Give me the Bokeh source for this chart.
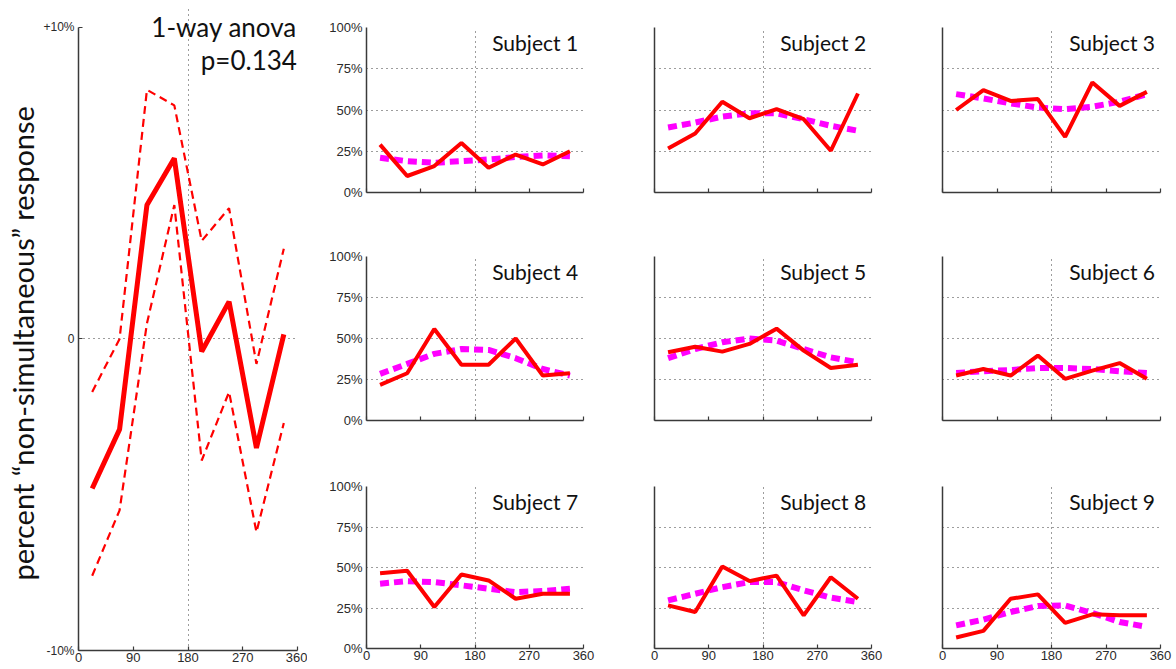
from bokeh.plotting import figure
from bokeh.layouts import row, column
from bokeh.models import FixedTicker, Label, Title
from bokeh.embed import file_html
from bokeh.resources import INLINE

# ---------------- data ----------------
angles = [22.5, 67.5, 112.5, 157.5, 202.5, 247.5, 292.5, 337.5]
x_ticks = [0, 90, 180, 270, 360]
x_tick_labels = ["0", "90", "180", "270", "360"]

# group panel: change in percent "non-simultaneous" response
group_mean = [-4.8, -2.9, 4.3, 5.8, -0.4, 1.2, -3.5, 0.15]
group_upper = [-1.7, 0.0, 8.0, 7.5, 3.15, 4.2, -0.8, 2.9]
group_lower = [-7.6, -5.5, 0.5, 4.3, -3.9, -1.7, -6.2, -2.7]
group_y_ticks = [-10, 0, 10]
group_y_labels = ["-10%", "0", "+10%"]

# subject panels (percent non-simultaneous response, observed and fitted)
subj_y_ticks = [0, 25, 50, 75, 100]
subj_y_labels = ["0%", "25%", "50%", "75%", "100%"]
subject_names = ["Subject 1", "Subject 2", "Subject 3",
                 "Subject 4", "Subject 5", "Subject 6",
                 "Subject 7", "Subject 8", "Subject 9"]

s1_obs = [29, 10, 16, 30, 15, 23, 17, 25]
s1_fit = [21, 19, 18, 19, 20, 21.5, 22.5, 22]
s2_obs = [26.7, 35.8, 55, 45, 50.5, 44.4, 25.3, 60]
s2_fit = [39.4, 42.4, 46, 48, 48, 44.4, 40.4, 37.4]
s3_obs = [50, 62, 55.5, 56.6, 33.7, 66.7, 52.5, 61]
s3_fit = [59.6, 57, 54, 51.5, 50.5, 52, 55, 59.6]
s4_obs = [21.7, 28.8, 55.8, 34, 34, 50, 27.4, 28.8]
s4_fit = [28.4, 34.5, 40.6, 43.6, 43, 38, 31.4, 27.4]
s5_obs = [41.6, 45, 42, 46.7, 56, 42.6, 32, 34]
s5_fit = [38, 43.6, 47.7, 50, 48.7, 43.6, 38.5, 35.5]
s6_obs = [27.4, 31.4, 27.4, 39.6, 25.4, 30.4, 35, 25.4]
s6_fit = [29, 30, 30.8, 32, 32, 31.4, 30, 29]
s7_obs = [46.5, 48, 25.6, 45.7, 42, 30.7, 33.8, 33.8]
s7_fit = [40, 41.6, 41, 39, 36.9, 34.8, 35.5, 36.9]
s8_obs = [26.6, 22.5, 50.6, 41.6, 45, 20.5, 44, 30.7]
s8_fit = [29.7, 33.8, 37.9, 41, 41, 35.9, 31.4, 28.7]
s9_obs = [6.8, 10.9, 30.7, 33.4, 15.8, 21.1, 20.5, 20.5]
s9_fit = [14.3, 17.8, 22.5, 26.2, 26.6, 21.9, 16.4, 13.3]

observed = [s1_obs, s2_obs, s3_obs, s4_obs, s5_obs, s6_obs, s7_obs, s8_obs, s9_obs]
fitted = [s1_fit, s2_fit, s3_fit, s4_fit, s5_fit, s6_fit, s7_fit, s8_fit, s9_fit]

# ---------------- style ----------------
AXIS_COLOR = "#3a3a3a"
TICK_FONT = "Liberation Sans"
TITLE_FONT = "Lato"
RED = "#ff0000"
MAGENTA = "#ff00ff"
GRID_DASH = "1 4"


def style_axes(p, xlabels_on, ylabels, yticks, ytick_in):
    p.xaxis.ticker = FixedTicker(ticks=x_ticks)
    if xlabels_on:
        p.xaxis.major_label_overrides = {t: l for t, l in zip(x_ticks, x_tick_labels)}
    else:
        p.xaxis.major_label_overrides = {t: "" for t in x_ticks}
    p.yaxis.ticker = FixedTicker(ticks=yticks)
    if ylabels is not None:
        p.yaxis.major_label_overrides = {t: l for t, l in zip(yticks, ylabels)}
    else:
        p.yaxis.major_label_overrides = {t: "" for t in yticks}
    for ax in (p.xaxis[0], p.yaxis[0]):
        ax.axis_line_color = AXIS_COLOR
        ax.axis_line_width = 1.5
        ax.major_tick_line_color = AXIS_COLOR
        ax.major_tick_line_width = 1.2
        ax.minor_tick_line_color = None
        ax.major_tick_out = 0
        ax.major_label_text_font = TICK_FONT
        ax.major_label_text_font_size = "13px"
        ax.major_label_text_color = "#2a2a2a"
    p.xaxis.major_tick_in = 4
    p.yaxis.major_tick_in = ytick_in
    p.xaxis.major_label_standoff = 2
    p.yaxis.major_label_standoff = 4
    p.outline_line_color = None
    p.background_fill_color = "white"
    p.border_fill_color = "white"


# ---------------- group panel ----------------
# frame extends a little above +10% so the annotation text fits inside it
left = figure(width=307, height=668, x_range=(0, 360), y_range=(-10, 10.706),
              output_backend="svg", toolbar_location=None,
              min_border_left=78, min_border_right=10,
              min_border_top=5, min_border_bottom=18)
style_axes(left, True, group_y_labels, group_y_ticks, 4)
left.yaxis.major_label_text_font_size = "12px"
left.yaxis.bounds = (-10, 10)
left.xgrid.ticker = FixedTicker(ticks=[180])
left.ygrid.ticker = FixedTicker(ticks=[0])
left.xgrid.bounds = (-10, 8.05)
for g in (left.xgrid[0], left.ygrid[0]):
    g.grid_line_color = AXIS_COLOR
    g.grid_line_dash = GRID_DASH
    g.grid_line_width = 1
left.line(angles, group_upper, line_color=RED, line_width=2.2, line_dash="8 5")
left.line(angles, group_lower, line_color=RED, line_width=2.2, line_dash="8 5")
left.line(angles, group_mean, line_color=RED, line_width=5)
left.add_layout(Title(text="percent \u201cnon-simultaneous\u201d response",
                      align="left", offset=70, standoff=2,
                      text_font=TITLE_FONT, text_font_size="29px",
                      text_font_style="normal", text_color="#111111"), "left")
left.add_layout(Label(x=359, y=10.0, text="1-way anova", text_align="right",
                      text_baseline="middle", text_font=TITLE_FONT,
                      text_font_size="26px", text_color="#111111"))
left.add_layout(Label(x=359, y=8.95, text="p=0.134", text_align="right",
                      text_baseline="middle", text_font=TITLE_FONT,
                      text_font_size="26px", text_color="#111111"))

# ---------------- subject panels ----------------
col_left = [59, 36, 36]
col_right = [35, 35, 14]
col_frame = [217, 217, 218]
row_top = [27, 34, 36]
row_bottom = [30, 30, 20]
row_frame = [165, 164, 162]

rows = []
for r in range(3):
    figs = []
    for c in range(3):
        i = r * 3 + c
        p = figure(width=col_left[c] + col_frame[c] + col_right[c],
                   height=row_top[r] + row_frame[r] + row_bottom[r],
                   x_range=(0, 360), y_range=(0, 100),
                   output_backend="svg", toolbar_location=None,
                   min_border_left=col_left[c], min_border_right=col_right[c],
                   min_border_top=row_top[r], min_border_bottom=row_bottom[r])
        style_axes(p, r == 2, subj_y_labels if c == 0 else None, subj_y_ticks, 0)
        p.xgrid.ticker = FixedTicker(ticks=[180])
        p.ygrid.ticker = FixedTicker(ticks=[25, 50, 75])
        for g in (p.xgrid[0], p.ygrid[0]):
            g.grid_line_color = AXIS_COLOR
            g.grid_line_dash = GRID_DASH
            g.grid_line_width = 1
        p.line(angles, fitted[i], line_color=MAGENTA, line_width=6, line_dash="9 5")
        p.line(angles, observed[i], line_color=RED, line_width=4)
        p.add_layout(Label(x=351, y=91, text=subject_names[i], text_align="right",
                           text_baseline="middle", text_font=TITLE_FONT,
                           text_font_size="21px", text_color="#111111"))
        figs.append(p)
    rows.append(row(*figs, spacing=0))

layout = row(left, column(*rows, spacing=0), spacing=0)

open("out.html", "w").write(file_html(layout, INLINE))
